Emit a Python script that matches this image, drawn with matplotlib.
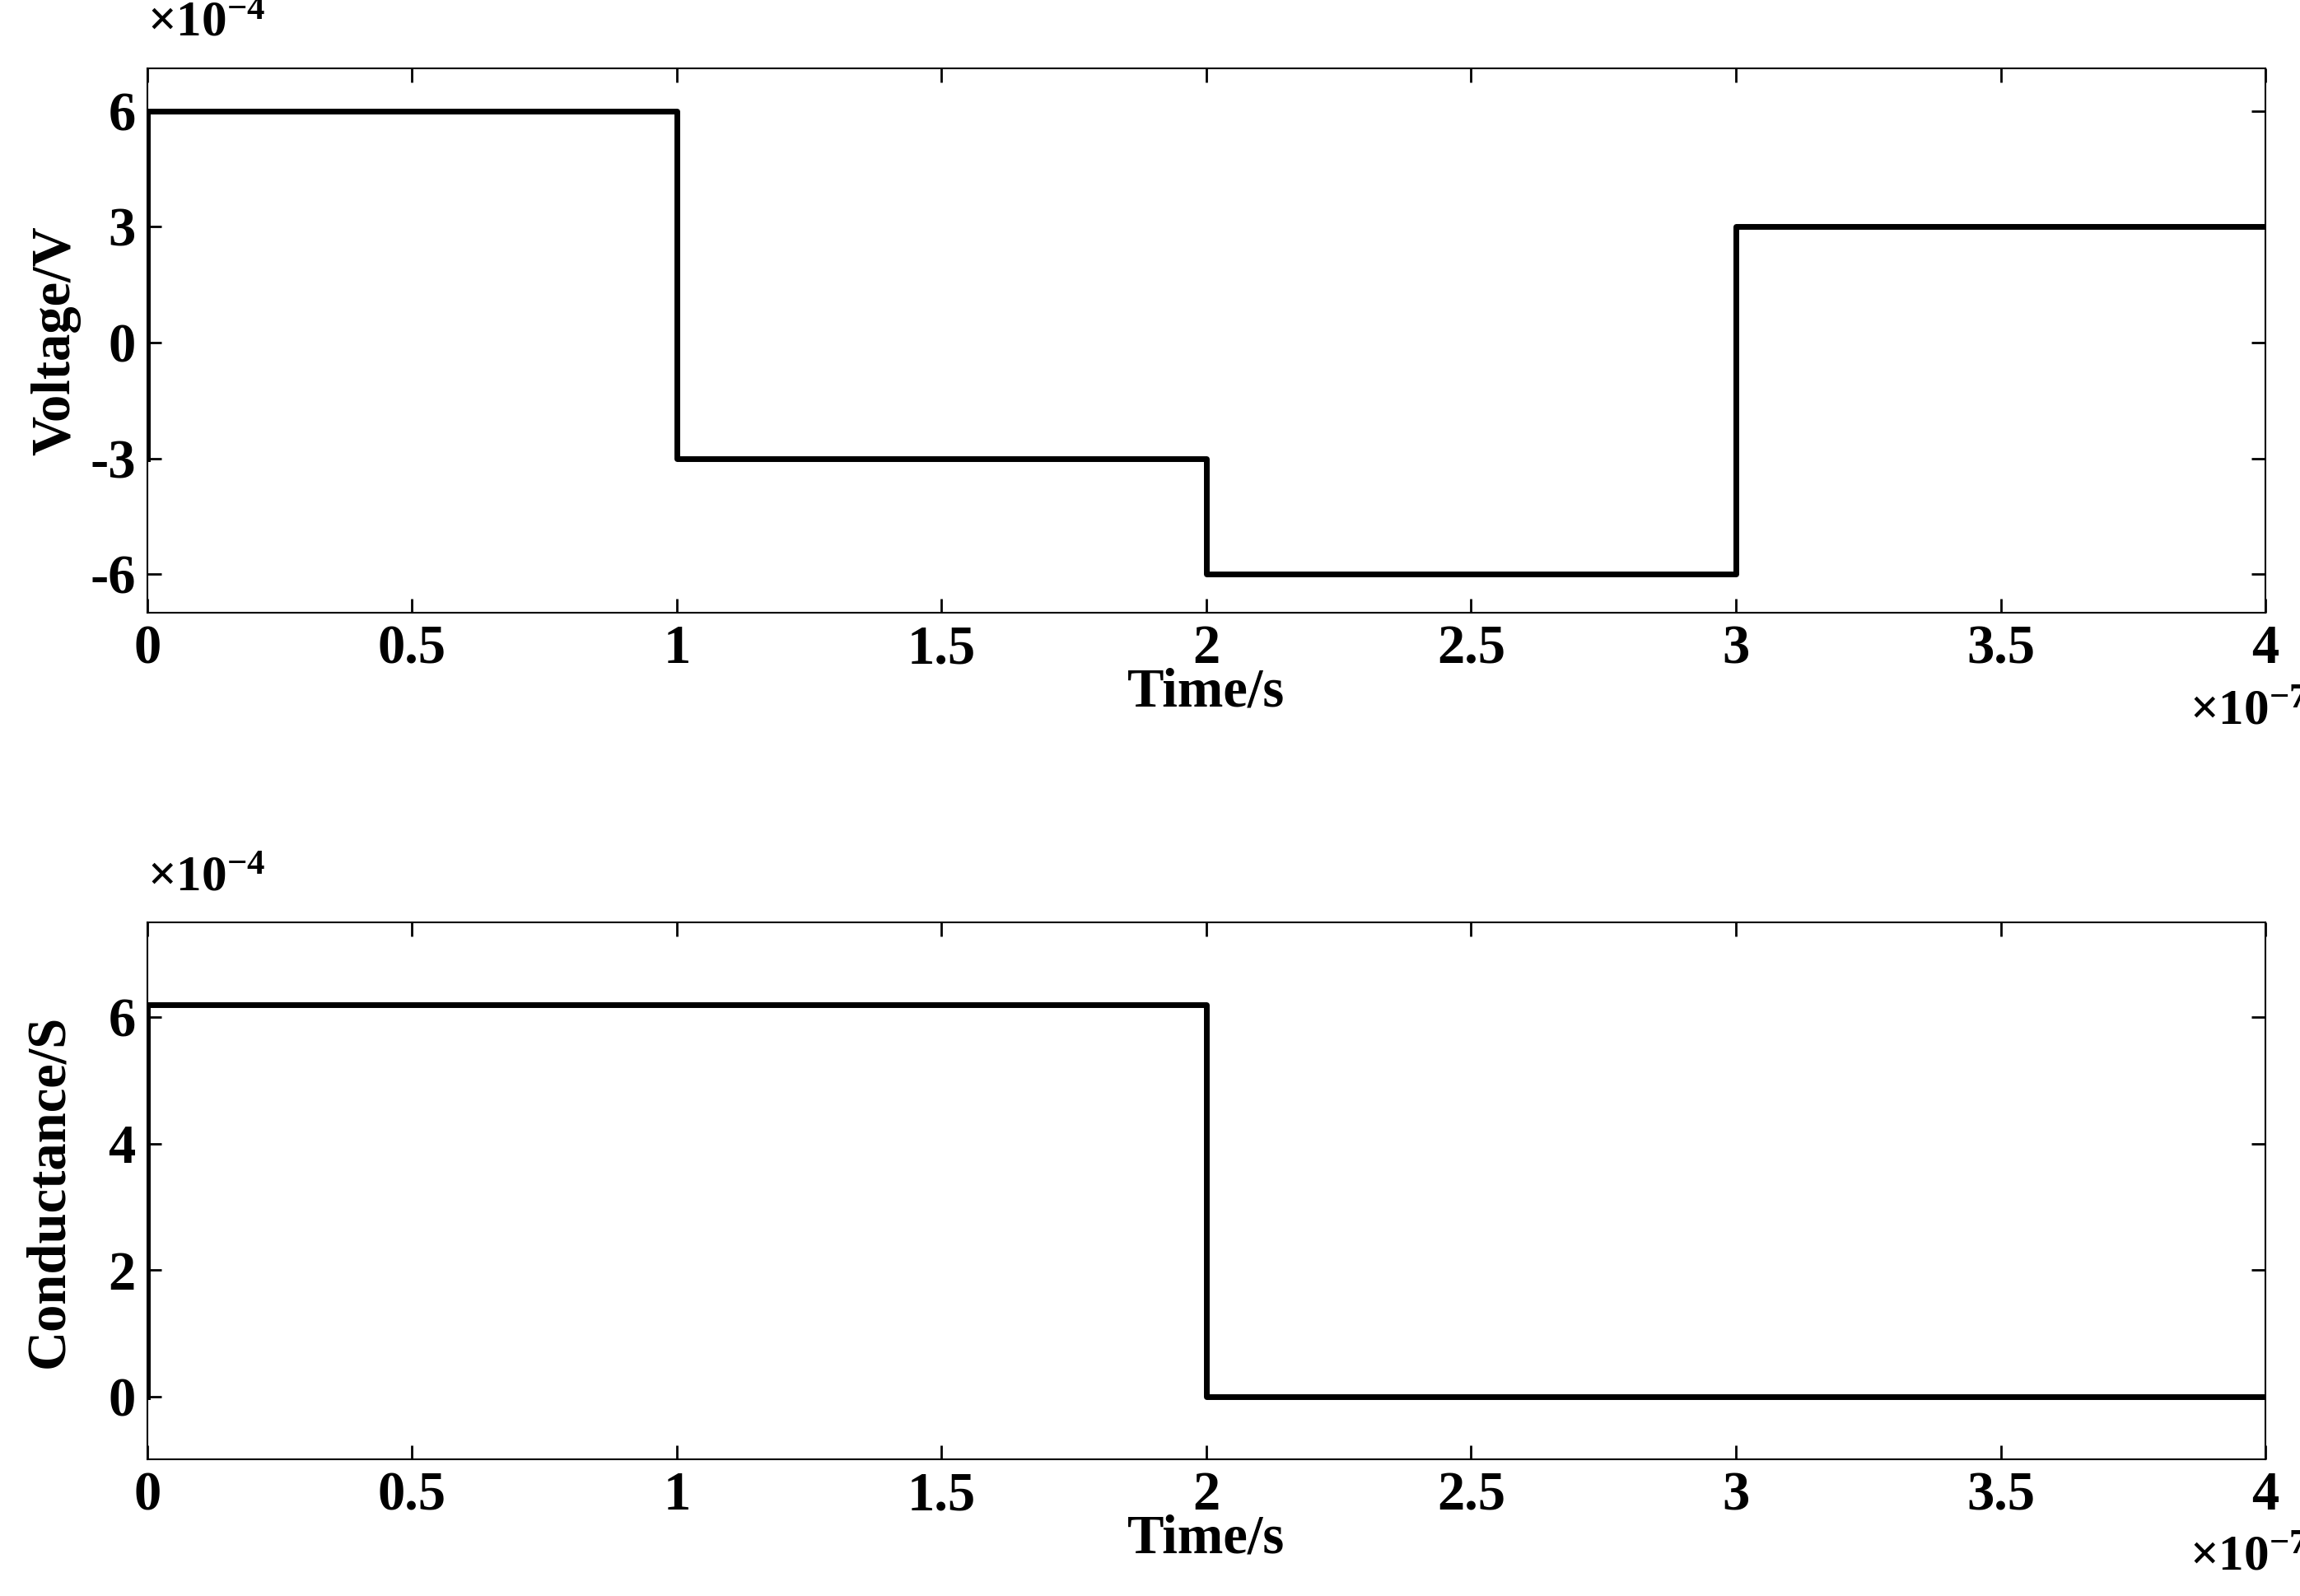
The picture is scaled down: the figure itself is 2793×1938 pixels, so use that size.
import matplotlib
matplotlib.use("Agg")
import matplotlib.pyplot as plt

plt.rcParams['font.family'] = ['Liberation Serif', 'DejaVu Serif']
plt.rcParams['font.weight'] = 'bold'
plt.rcParams['mathtext.fontset'] = 'custom'
plt.rcParams['mathtext.rm'] = 'Liberation Serif:bold'
plt.rcParams['mathtext.default'] = 'rm'
plt.rcParams['axes.unicode_minus'] = False

# data (time in units of 1e-7 s, values in units of 1e-4)
t_v = [0, 0, 1, 1, 2, 2, 3, 3, 4]
volt = [-3, 6, 6, -3, -3, -6, -6, 3, 3]
t_g = [0, 0, 2, 2, 4]
cond = [0, 6.2, 6.2, 0, 0]

x_ticks = [0, 0.5, 1, 1.5, 2, 2.5, 3, 3.5, 4]
x_labels = ['0', '0.5', '1', '1.5', '2', '2.5', '3', '3.5', '4']

fig = plt.figure(figsize=(27.93, 19.38), dpi=100)
ax1 = fig.add_axes([0.064, 0.616, 0.921, 0.341])
ax2 = fig.add_axes([0.064, 0.0855, 0.921, 0.3365])

fs = 48
for ax in (ax1, ax2):
    ax.set_xlim(0, 4)
    ax.set_xticks(x_ticks)
    ax.set_xticklabels(x_labels)
    ax.tick_params(direction='in', top=True, right=True, length=12, width=2,
                   labelsize=fs, pad=10)
    for s in ax.spines.values():
        s.set_linewidth(1.5)
    ax.set_xlabel('Time/s', fontsize=fs, fontweight='bold', labelpad=-6)
    ax.text(1.02, -0.14, r'×10$^{-7}$', transform=ax.transAxes, fontsize=fs - 4,
            ha='right', va='top')
    ax.text(0.0, 1.04, r'×10$^{-4}$', transform=ax.transAxes, fontsize=fs - 4,
            ha='left', va='bottom')

ax1.plot(t_v, volt, color='black', lw=5)
ax1.set_ylim(-7, 7.1)
ax1.set_yticks([-6, -3, 0, 3, 6])
ax1.set_yticklabels(['-6', '-3', '0', '3', '6'])
ax1.set_ylabel('Voltage/V', fontsize=fs, fontweight='bold', labelpad=8)

ax2.plot(t_g, cond, color='black', lw=5)
ax2.set_ylim(-1, 7.5)
ax2.set_yticks([0, 2, 4, 6])
ax2.set_ylabel('Conductance/S', fontsize=fs, fontweight='bold', labelpad=30)

fig.savefig('out.png', dpi=100)
